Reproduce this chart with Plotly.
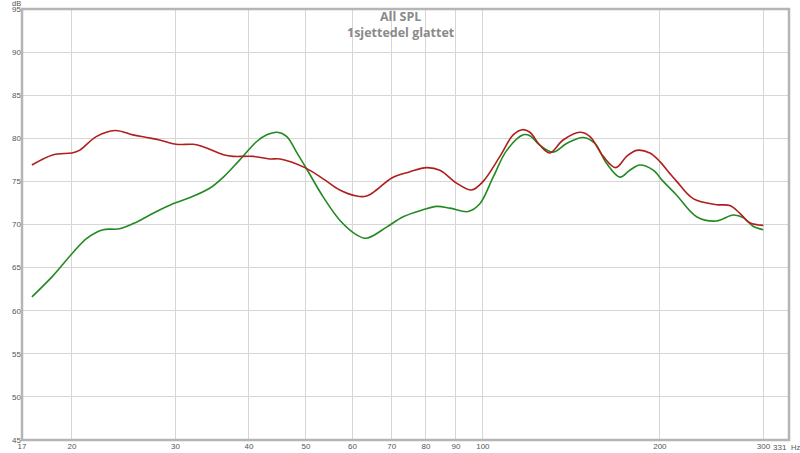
import plotly.graph_objects as go
import math

# ---- data ----
red_freq = [17.1, 18.6, 20.0, 20.6, 22.0, 23.7, 25.4, 26.8, 28.2, 30.1, 32.2, 33.5, 36.2, 37.6,
            40.7, 43.4, 45.2, 49.8, 53.5, 57.1, 61.0, 63.4, 65.9, 70.0, 75.0, 80.2, 84.5, 90.2, 95.7,
            100.1, 106.9, 112.6, 116.7, 120.2, 125.0, 130.0, 136.9, 146.2, 152.1, 160.2, 168.3,
            175.6, 182.6, 192.3, 200.0, 208.0, 213.6, 227.8, 249.8, 263.0, 273.5, 284.4, 299.8]
red_spl = [76.9, 78.1, 78.3, 78.6, 80.2, 80.9, 80.4, 80.1, 79.8, 79.3, 79.3, 79.0, 78.1, 77.9,
           77.9, 77.6, 77.6, 76.6, 75.3, 74.0, 73.3, 73.3, 74.0, 75.4, 76.1, 76.6, 76.3, 74.8, 74.0,
           75.0, 77.9, 80.4, 81.0, 80.7, 79.2, 78.3, 79.8, 80.7, 80.2, 77.9, 76.6,
           77.9, 78.6, 78.3, 77.3, 75.9, 75.0, 73.0, 72.3, 72.2, 71.3, 70.2, 69.9]

green_freq = [17.1, 18.6, 20.0, 21.2, 22.6, 24.1, 25.8, 27.5, 29.7, 31.7, 34.3, 36.2, 38.6, 41.2,
              42.9, 44.7, 46.4, 48.2, 50.1, 53.5, 57.1, 61.0, 63.4, 68.6, 73.2, 79.1, 83.4, 87.9,
              94.4, 98.8, 104.1, 109.8, 117.1, 120.2, 125.0, 131.7, 138.8, 148.1, 155.1, 162.3,
              171.0, 177.8, 184.9, 194.8, 202.6, 213.6, 230.9, 249.8, 266.4, 277.2, 288.1, 299.8]
green_spl = [61.6, 64.1, 66.6, 68.4, 69.4, 69.5, 70.3, 71.3, 72.4, 73.1, 74.2, 75.5, 77.5, 79.6,
             80.4, 80.7, 80.2, 78.4, 76.5, 73.2, 70.5, 68.8, 68.4, 69.7, 70.9, 71.7, 72.1, 71.9,
             71.5, 72.4, 75.5, 78.6, 80.4, 80.3, 79.2, 78.4, 79.4, 80.1, 79.4, 77.1,
             75.5, 76.3, 76.9, 76.3, 75.0, 73.4, 70.9, 70.4, 71.1, 70.8, 69.8, 69.4]

x_tickvals = [16.45, 20, 30, 40, 50, 60, 70, 80, 90, 100, 200, 300]
x_ticktext = ["17", "20", "30", "40", "50", "60", "70", "80", "90", "100", "200", "300"]
x_range = [16.45, 331.6]
x_end_label = "331"
x_unit = "Hz"
y_tickvals = [45, 50, 55, 60, 65, 70, 75, 80, 85, 90, 95]
y_range = [45, 95]
y_unit = "dB"

title_text = "All SPL"
subtitle_text = "1sjettedel glattet"

fig = go.Figure()
fig.add_trace(go.Scatter(x=green_freq, y=green_spl, mode="lines",
                         line=dict(color="#238a23", width=1.6, shape="spline", smoothing=1.0),
                         showlegend=False))
fig.add_trace(go.Scatter(x=red_freq, y=red_spl, mode="lines",
                         line=dict(color="#b01e1e", width=1.6, shape="spline", smoothing=1.0),
                         showlegend=False))

tick_font = dict(family="Liberation Sans, Arial, sans-serif", size=8, color="#555555")
small_font = dict(family="Liberation Sans, Arial, sans-serif", size=7.5, color="#555555")

fig.update_xaxes(type="log", range=[math.log10(x_range[0]), math.log10(x_range[1])],
                 tickmode="array", tickvals=x_tickvals, ticktext=x_ticktext,
                 showgrid=True, gridcolor="#d6d6d6", gridwidth=1, automargin=False,
                 zeroline=False, showline=False, ticks="", tickfont=tick_font)
fig.update_yaxes(range=y_range, tickmode="array", tickvals=y_tickvals, automargin=False,
                 showgrid=True, gridcolor="#d6d6d6", gridwidth=1,
                 zeroline=False, showline=False, ticks="", tickfont=tick_font)

# plot frame
fig.add_shape(type="rect", xref="paper", yref="paper", x0=0, y0=0, x1=1, y1=1,
              line=dict(color="#b5b5b5", width=2.5), layer="above")

title_font = dict(family="Open Sans, sans-serif", size=12.5, color="#8a8a8a", weight="bold")
fig.add_annotation(text=title_text, xref="paper", yref="paper", x=0.494, y=1, yshift=-7,
                   yanchor="middle", showarrow=False, font=title_font)
fig.add_annotation(text=subtitle_text, xref="paper", yref="paper", x=0.494, y=1, yshift=-23,
                   yanchor="middle", showarrow=False, font=title_font)
fig.add_annotation(text=y_unit, xref="paper", yref="paper", x=0, y=1, xanchor="right",
                   yanchor="bottom", xshift=1, yshift=-1, showarrow=False, font=small_font)
fig.add_annotation(text=x_end_label, xref="paper", yref="paper", x=1, y=0, xanchor="right",
                   yanchor="top", xshift=0, yshift=-1, showarrow=False, font=tick_font)
fig.add_annotation(text=x_unit, xref="paper", yref="paper", x=1, y=0, xanchor="left",
                   yanchor="top", xshift=0, yshift=-1, showarrow=False, font=small_font)

fig.update_layout(width=800, height=453, margin=dict(l=22, r=11, t=9, b=13),
                  paper_bgcolor="white", plot_bgcolor="white")

fig.write_html("out.html", config={"displayModeBar": False},
               post_script="document.body.style.margin='0';document.body.style.overflow='hidden';")
